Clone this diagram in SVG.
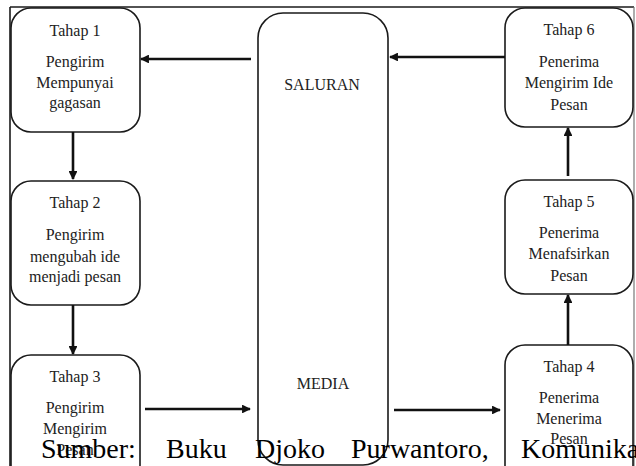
<svg xmlns="http://www.w3.org/2000/svg" width="636" height="466" viewBox="0 0 636 466">
<style>
.box{fill:#fff;stroke:#1a1a1a;stroke-width:1.6}
.t{font-size:16px;fill:#222;text-anchor:middle}
.c{stroke:#111;stroke-width:2.6;fill:none}
.src{font-size:28px;fill:#000}
</style>
<defs>
<marker id="ah" viewBox="0 0 10 10" refX="9" refY="5" markerWidth="3.4" markerHeight="3.4" orient="auto" markerUnits="strokeWidth">
<path d="M0,0 L10,5 L0,10 z" fill="#111"/>
</marker>
</defs>
<rect width="636" height="466" fill="#fff"/>
<g id="frame">
<line x1="10" y1="7" x2="634" y2="7" stroke="#1a1a1a" stroke-width="1.6"/>
<line x1="10" y1="7" x2="10" y2="466" stroke="#1a1a1a" stroke-width="1.6"/>
<line x1="634" y1="7" x2="634" y2="466" stroke="#777" stroke-width="1.2"/>
</g>
<g font-family="Liberation Serif, Times New Roman, DejaVu Serif, serif">
<g id="saluran">
<rect class="box" x="258" y="13" width="130" height="452" rx="25"/>
<text class="t" x="322" y="90">SALURAN</text>
<text class="t" x="323" y="389">MEDIA</text>
</g>
<g id="tahap1">
<rect class="box" x="11" y="8" width="129" height="124" rx="20"/>
<text class="t" x="75" y="36">Tahap 1</text>
<text class="t" x="75" y="67">Pengirim</text>
<text class="t" x="75" y="88">Mempunyai</text>
<text class="t" x="75" y="108">gagasan</text>
</g>
<g id="tahap2">
<rect class="box" x="11" y="181" width="129" height="124" rx="20"/>
<text class="t" x="75" y="208">Tahap 2</text>
<text class="t" x="75" y="240">Pengirim</text>
<text class="t" x="75" y="262">mengubah ide</text>
<text class="t" x="75" y="282">menjadi pesan</text>
</g>
<g id="tahap3">
<rect class="box" x="11" y="355" width="129" height="130" rx="20"/>
<text class="t" x="75" y="382">Tahap 3</text>
<text class="t" x="75" y="413">Pengirim</text>
<text class="t" x="75" y="434">Mengirim</text>
<text class="t" x="75" y="455">Pesan</text>
</g>
<g id="tahap4">
<rect class="box" x="505" y="345" width="128" height="140" rx="20"/>
<text class="t" x="569" y="372">Tahap 4</text>
<text class="t" x="569" y="403">Penerima</text>
<text class="t" x="569" y="424">Menerima</text>
<text class="t" x="569" y="444">Pesan</text>
</g>
<g id="tahap5">
<rect class="box" x="505" y="180" width="128" height="114" rx="20"/>
<text class="t" x="569" y="207">Tahap 5</text>
<text class="t" x="569" y="238">Penerima</text>
<text class="t" x="569" y="259">Menafsirkan</text>
<text class="t" x="569" y="281">Pesan</text>
</g>
<g id="tahap6">
<rect class="box" x="505" y="8" width="128" height="119" rx="20"/>
<text class="t" x="569" y="35">Tahap 6</text>
<text class="t" x="569" y="67">Penerima</text>
<text class="t" x="569" y="88">Mengirim Ide</text>
<text class="t" x="569" y="110">Pesan</text>
</g>
</g>
<g id="connectors">
<line class="c" x1="251" y1="59" x2="141" y2="59" marker-end="url(#ah)"/>
<line class="c" x1="505" y1="57" x2="390" y2="57" marker-end="url(#ah)"/>
<line class="c" x1="73" y1="132" x2="73" y2="179" marker-end="url(#ah)"/>
<line class="c" x1="73" y1="305" x2="73" y2="354" marker-end="url(#ah)"/>
<line class="c" x1="145" y1="409" x2="250" y2="409" marker-end="url(#ah)"/>
<line class="c" x1="394" y1="410" x2="500" y2="410" marker-end="url(#ah)"/>
<line class="c" x1="568" y1="345" x2="568" y2="295" marker-end="url(#ah)"/>
<line class="c" x1="568" y1="176" x2="568" y2="128" marker-end="url(#ah)"/>
</g>
<g id="source" font-family="Liberation Serif, Times New Roman, DejaVu Serif, serif">
<text class="src" y="458"><tspan x="41">Sumber:</tspan><tspan x="166">Buku</tspan><tspan x="255">Djoko</tspan><tspan x="351">Purwantoro,</tspan><tspan x="521">Komunikasi</tspan></text>
</g>
</svg>
